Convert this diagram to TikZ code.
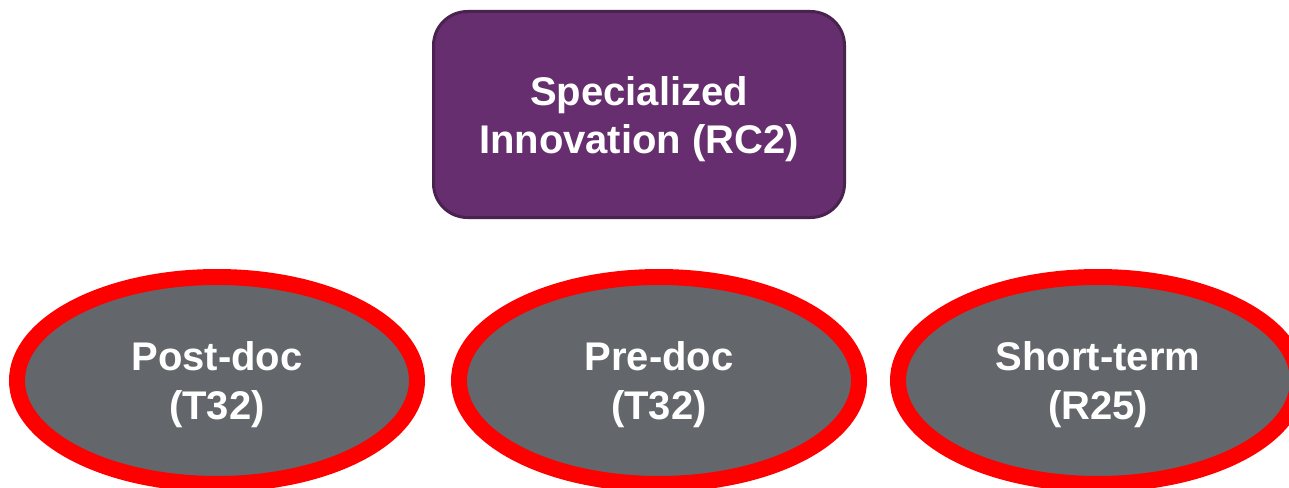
\documentclass[tikz,border=0pt]{standalone}
\usepackage{fontspec}
\setmainfont{Liberation Sans}
\usetikzlibrary{shapes.geometric}
\definecolor{rcpurple}{RGB}{102,46,110}
\definecolor{rcedge}{RGB}{74,34,80}
\definecolor{tgrey}{RGB}{99,102,106}
\newcommand{\capstrut}{\rule{0pt}{38pt}}
\begin{document}
\begin{tikzpicture}[x=1pt,y=-1pt,
  topbox/.style={rectangle,rounded corners=34pt,fill=rcpurple,draw=rcedge,line width=3pt,
    minimum width=411pt,minimum height=206pt,text=white,align=center,
    font=\bfseries\fontsize{40}{48}\selectfont},
  grantoval/.style={ellipse,fill=tgrey,draw=red,line width=16pt,
    minimum width=400pt,minimum height=207pt,inner sep=0pt,text=white,align=center,
    font=\bfseries\fontsize{40}{49}\selectfont}]
\useasboundingbox (0,0) rectangle (1289,487);
\node[topbox] (rc2) at (639,114.5) {\capstrut Specialized\\Innovation (RC2)};
\node[grantoval] (postdoc) at (217,380.5) {\capstrut Post-doc\\(T32)};
\node[grantoval] (predoc) at (659,380.5) {\capstrut Pre-doc\\(T32)};
\node[grantoval] (shortterm) at (1098,380.5) {\capstrut Short-term\\(R25)};
\end{tikzpicture}
\end{document}
